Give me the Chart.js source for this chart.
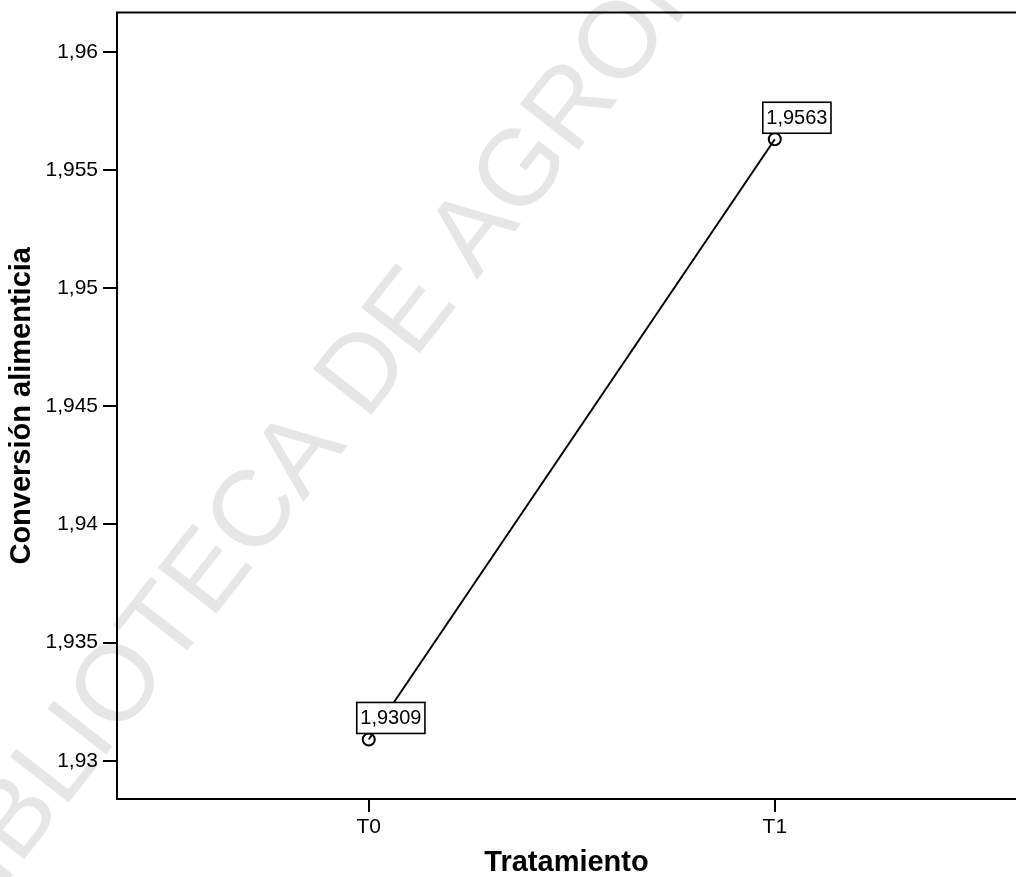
<!DOCTYPE html>
<html lang="es">
<head>
    <meta charset="UTF-8">
    <title>Conversión alimenticia por tratamiento</title>
    <script src="https://cdn.jsdelivr.net/npm/chart.js"></script>
    <style>
        body {
            margin: 0;
            background: #fff;
            overflow: hidden;
        }
        /* el marco del grafico original se corta por la derecha */
        #grafico {
            display: block;
            margin-top: -5px;
        }
    </style>
</head>
<body>
    <canvas id="grafico" width="1024" height="882"></canvas>

    <script>
        // Datos
        const tratamientos = ['T0', 'T1'];
        const conversion = [1.9309, 1.9563];
        const etiquetas = ['1,9309', '1,9563'];
        const yTicks = [1.93, 1.935, 1.94, 1.945, 1.95, 1.955, 1.96];
        const yTickLabels = ['1,93', '1,935', '1,94', '1,945', '1,95', '1,955', '1,96'];

        const FONT = "'Liberation Sans', Arial, sans-serif";

        // Marca de agua del escaneo (muy clara, detras del grafico)
        const marcaAgua = {
            id: 'marcaAgua',
            beforeDraw(chart) {
                const ctx = chart.ctx;
                const size = 108;
                ctx.save();
                ctx.font = size + 'px ' + FONT;
                ctx.fillStyle = '#e6e6e6';
                const texto = 'BIBLIOTECA DE AGRONOMIA';
                // centro de la "A" de BIBLIOTECA
                const off = ctx.measureText('BIBLIOTEC').width + ctx.measureText('A').width / 2;
                ctx.translate(295, 455);
                ctx.rotate(-52 * Math.PI / 180);
                ctx.textBaseline = 'alphabetic';
                ctx.fillText(texto, -off, size * 0.716 / 2);
                ctx.restore();
            }
        };

        // Linea superior del marco
        const marco = {
            id: 'marco',
            afterDraw(chart) {
                const { ctx, chartArea } = chart;
                ctx.save();
                ctx.strokeStyle = '#000';
                ctx.lineWidth = 2;
                ctx.beginPath();
                ctx.moveTo(chartArea.left - 1, chartArea.top);
                ctx.lineTo(chart.width, chartArea.top);
                ctx.stroke();
                ctx.restore();
            }
        };

        // Etiquetas con recuadro sobre cada punto
        const rotulos = {
            id: 'rotulos',
            afterDatasetsDraw(chart) {
                const ctx = chart.ctx;
                const meta = chart.getDatasetMeta(0);
                ctx.save();
                ctx.font = '20px ' + FONT;
                meta.data.forEach((pt, i) => {
                    const txt = etiquetas[i];
                    const w = ctx.measureText(txt).width + 7;
                    const h = 31;
                    const left = pt.x - 12;
                    const bottom = pt.y - 6;
                    ctx.fillStyle = '#fff';
                    ctx.fillRect(left, bottom - h, w, h);
                    ctx.strokeStyle = '#000';
                    ctx.lineWidth = 1.6;
                    ctx.strokeRect(left, bottom - h, w, h);
                    ctx.fillStyle = '#000';
                    ctx.textBaseline = 'middle';
                    ctx.textAlign = 'left';
                    ctx.fillText(txt, left + 3.5, bottom - h / 2 + 1);
                });
                ctx.restore();
            }
        };

        new Chart(document.getElementById('grafico').getContext('2d'), {
            type: 'line',
            data: {
                datasets: [{
                    data: conversion.map((v, i) => ({ x: i, y: v })),
                    borderColor: '#000',
                    borderWidth: 2,
                    pointRadius: 6,
                    pointBorderWidth: 2,
                    pointBorderColor: '#000',
                    pointBackgroundColor: 'rgba(0,0,0,0)',
                    fill: false,
                    tension: 0
                }]
            },
            options: {
                responsive: false,
                animation: false,
                layout: { padding: 0 },
                plugins: {
                    legend: { display: false },
                    tooltip: { enabled: false }
                },
                scales: {
                    x: {
                        type: 'linear',
                        min: -0.62,
                        max: 1.594,
                        afterBuildTicks: (s) => { s.ticks = tratamientos.map((t, i) => ({ value: i })); },
                        afterFit: (s) => { s.height = 78; },
                        ticks: {
                            callback: (v) => tratamientos[v],
                            color: '#000',
                            font: { family: FONT, size: 21 },
                            padding: 3,
                            maxRotation: 0
                        },
                        grid: { drawOnChartArea: false, drawTicks: true, tickLength: 13, color: '#000', lineWidth: 2 },
                        border: { display: true, color: '#000', width: 2 },
                        title: {
                            display: true,
                            text: 'Tratamiento',
                            color: '#000',
                            font: { family: FONT, size: 29, weight: 'bold', lineHeight: 1 },
                            padding: { top: 0, bottom: 0 }
                        }
                    },
                    y: {
                        min: 1.92838,
                        max: 1.96166,
                        afterBuildTicks: (s) => { s.ticks = yTicks.map(v => ({ value: v })); },
                        afterFit: (s) => { s.width = 117; },
                        ticks: {
                            callback: (v) => yTickLabels[yTicks.findIndex(t => Math.abs(t - v) < 1e-9)],
                            color: '#000',
                            font: { family: FONT, size: 21 },
                            padding: 5
                        },
                        grid: { drawOnChartArea: false, drawTicks: true, tickLength: 14, color: '#000', lineWidth: 2 },
                        border: { display: true, color: '#000', width: 2 },
                        title: {
                            display: true,
                            text: 'Conversión alimenticia',
                            color: '#000',
                            font: { family: FONT, size: 29, weight: 'bold' },
                            padding: { top: 5, bottom: 0 }
                        }
                    }
                }
            },
            plugins: [marcaAgua, marco, rotulos]
        });
    </script>
</body>
</html>
